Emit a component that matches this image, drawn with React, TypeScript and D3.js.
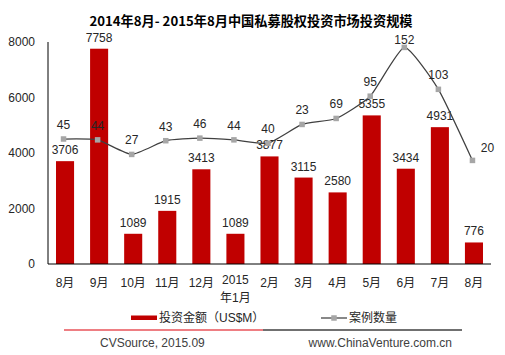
import React, { useEffect } from "react";
import * as d3 from "d3";

const categories: string[][] = [["8月"], ["9月"], ["10月"], ["11月"], ["12月"], ["2015", "年1月"], ["2月"], ["3月"], ["4月"], ["5月"], ["6月"], ["7月"], ["8月"]];
const amounts: number[] = [3706, 7758, 1089, 1915, 3413, 1089, 3877, 3115, 2580, 5355, 3434, 4931, 776];
// plotted deal counts
const dealsPlotted: number[] = [45, 44, 27, 43, 46, 44, 40, 62, 69, 95, 152, 103, 20];
// deal-count labels as printed in the chart
const dealLabels: number[] = [45, 44, 27, 43, 46, 44, 40, 23, 69, 95, 152, 103, 20];
const yTicks: number[] = [0, 2000, 4000, 6000, 8000];
const title = "2014年8月- 2015年8月中国私募股权投资市场投资规模";
const legendBar = "投资金额（US$M）";
const legendLine = "案例数量";
const sourceText = "CVSource, 2015.09";
const siteText = "www.ChinaVenture.com.cn";

const W = 505, H = 355;
const left = 48, right = 491, top = 42, bottom = 264;
const FONT = "'Liberation Sans', Arial, 'Noto Sans CJK SC', sans-serif";

export default function App() {
  useEffect(() => {
    document.body.style.margin = "0";
  }, []);
  const idx = categories.map((_, i) => String(i));
  const x = d3.scaleBand().domain(idx).range([left, right]).paddingInner(0.47).paddingOuter(0.235);
  const y = d3.scaleLinear().domain([0, 8000]).range([bottom, top]);
  const y2 = d3.scaleLinear().domain([-101, 158.3]).range([bottom, top]);
  const cx = (i: number) => (x(String(i)) as number) + x.bandwidth() / 2;
  const lx = (i: number) => cx(i) - 1.5;
  const line = d3.line<number>().x((_, i) => lx(i)).y((d) => y2(d)).curve(d3.curveCardinal.tension(0.5));
  const labelColor = "#262626";
  return (
    <svg width={W} height={H} style={{ display: "block", background: "#fff" }} fontFamily={FONT}>
      <text x={251} y={26} textAnchor="middle" fontSize={13.2} fontWeight="bold" fill="#000"
        fontFamily="'Noto Sans CJK SC', 'Liberation Sans', sans-serif">{title}</text>
      {yTicks.map((t) => (
        <text key={t} x={35} y={y(t) + 4} textAnchor="end" fontSize={12} fill={labelColor}>{t}</text>
      ))}
      {amounts.map((v, i) => (
        <rect key={i} x={x(String(i))} y={y(v)} width={x.bandwidth()} height={bottom - y(v)} fill="#C00000" />
      ))}
      <line x1={left} x2={left} y1={top} y2={bottom} stroke="#000" strokeWidth={1} />
      <line x1={left} x2={right} y1={bottom} y2={bottom} stroke="#000" strokeWidth={1} />
      {amounts.map((v, i) => (
        <text key={"b" + i} x={cx(i)} y={y(v) - 7} textAnchor="middle" fontSize={12} fill={labelColor}>{v}</text>
      ))}
      <path d={line(dealsPlotted) || ""} fill="none" stroke="#404040" strokeWidth={1.25} />
      {dealsPlotted.map((v, i) => (
        <rect key={"m" + i} x={lx(i) - 2.75} y={y2(v) - 2.75} width={5.5} height={5.5} fill="#A6A6A6" />
      ))}
      {dealLabels.map((v, i) => {
        const last = i === dealLabels.length - 1;
        const py = y2(dealsPlotted[i]);
        const ly = last ? py - 8.5 : Math.max(py - 10, top + 2);
        return (
          <text key={"d" + i} x={lx(i) + (last ? 15 : 0)} y={ly} textAnchor="middle" fontSize={12} fill={labelColor}>{v}</text>
        );
      })}
      {categories.map((c, i) => (
        <text key={"c" + i} x={cx(i)} y={c.length > 1 ? 284 : 287} textAnchor="middle" fontSize={12} fill={labelColor}>
          {c.map((s, j) => (
            <tspan key={j} x={cx(i)} dy={j === 0 ? 0 : 18}>{s}</tspan>
          ))}
        </text>
      ))}
      <rect x={131} y={315.5} width={26} height={4.5} fill="#C00000" />
      <text x={159} y={322} fontSize={12} fill={labelColor}>{legendBar}</text>
      <line x1={321} x2={347} y1={318} y2={318} stroke="#404040" strokeWidth={1.25} />
      <rect x={331.25} y={315.25} width={5.5} height={5.5} fill="#A6A6A6" />
      <text x={349} y={322} fontSize={12} fill={labelColor}>{legendLine}</text>
      <line x1={64} x2={263} y1={330} y2={330} stroke="#E8535A" strokeWidth={1.5} />
      <line x1={263} x2={462} y1={330} y2={330} stroke="#404040" strokeWidth={1.5} />
      <text x={100} y={347} fontSize={12} fill="#404040">{sourceText}</text>
      <text x={452} y={347} textAnchor="end" fontSize={12} fill="#404040">{siteText}</text>
    </svg>
  );
}
